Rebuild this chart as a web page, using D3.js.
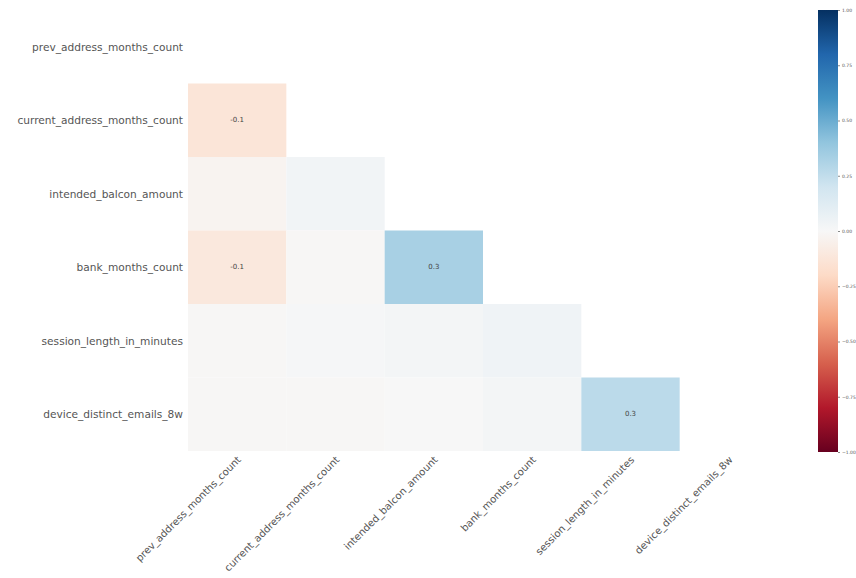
<!DOCTYPE html>
<html>
<head>
<meta charset="utf-8">
<script src="https://cdnjs.cloudflare.com/ajax/libs/d3/7.8.5/d3.min.js"></script>
<style>
  body { margin: 0; background: #fff; }
  svg text { font-family: "DejaVu Sans", sans-serif; }
</style>
</head>
<body>
<svg id="chart"></svg>
<script>
const columns = [
    "prev_address_months_count",
    "current_address_months_count",
    "intended_balcon_amount",
    "bank_months_count",
    "session_length_in_minutes",
    "device_distinct_emails_8w"
];

// nullity correlation, lower triangle only (row i, col j < i)
const corrRows = [
    [],
    [-0.13],
    [-0.03, 0.03],
    [-0.11, -0.01, 0.33],
    [-0.01, 0.01, 0.02, 0.04],
    [-0.01, -0.01, 0.00, 0.02, 0.27]
];

const colorbarTicks = [1, 0.75, 0.5, 0.25, 0, -0.25, -0.5, -0.75, -1];

// RdBu colour stops (same as matplotlib's linear segmented map)
const rdbu = ["#67001f", "#b2182b", "#d6604d", "#f4a582", "#fddbc7", "#f7f7f7",
              "#d1e5f0", "#92c5de", "#4393c3", "#2166ac", "#053061"];

const W = 856, H = 578;
const grid = { left: 188, top: 10, right: 778, bottom: 451 };

const svg = d3.select("#chart")
    .attr("width", W)
    .attr("height", H);

const x = d3.scaleBand()
    .domain(columns)
    .range([grid.left, grid.right]);

const y = d3.scaleBand()
    .domain(columns)
    .range([grid.top, grid.bottom]);

const color = d3.scaleLinear()
    .domain(d3.range(rdbu.length).map(i => -1 + 2 * i / (rdbu.length - 1)))
    .range(rdbu)
    .interpolate(d3.interpolateRgb);

const cells = [];
corrRows.forEach((row, i) => {
    row.forEach((v, j) => cells.push({ row: columns[i], col: columns[j], value: v }));
});

svg.append("g").selectAll("rect")
    .data(cells)
    .enter().append("rect")
    .attr("x", d => x(d.col))
    .attr("y", d => y(d.row))
    .attr("width", x.bandwidth())
    .attr("height", y.bandwidth())
    .attr("fill", d => color(d.value));

// missingno style annotations
const annot = v => {
    if (Math.abs(v) < 0.05) return "";
    return String(Math.round(v * 10) / 10);
};

svg.append("g").selectAll("text")
    .data(cells.filter(d => annot(d.value) !== ""))
    .enter().append("text")
    .attr("x", d => x(d.col) + x.bandwidth() / 2)
    .attr("y", d => y(d.row) + y.bandwidth() / 2)
    .attr("text-anchor", "middle")
    .attr("dominant-baseline", "central")
    .style("font-size", "7px")
    .attr("fill", "#444")
    .text(d => annot(d.value));

// y labels
svg.append("g").selectAll("text")
    .data(columns)
    .enter().append("text")
    .attr("x", grid.left - 5)
    .attr("y", d => y(d) + y.bandwidth() / 2)
    .attr("text-anchor", "end")
    .attr("dominant-baseline", "central")
    .style("font-size", "10.6px")
    .attr("fill", "#555")
    .text(d => d);

// x labels, rotated
svg.append("g").selectAll("text")
    .data(columns)
    .enter().append("text")
    .attr("transform", d => `translate(${x(d) + x.bandwidth() / 2 + 2},${grid.bottom + 7}) rotate(-45)`)
    .attr("text-anchor", "end")
    .attr("dominant-baseline", "central")
    .style("font-size", "10.1px")
    .attr("fill", "#555")
    .text(d => d);

// colorbar
const cb = { x: 818, w: 20, top: 10, bottom: 452 };
const cbScale = d3.scaleLinear().domain([-1, 1]).range([cb.bottom, cb.top]);

const defs = svg.append("defs");
const grad = defs.append("linearGradient")
    .attr("id", "cbgrad")
    .attr("x1", "0").attr("y1", "1")
    .attr("x2", "0").attr("y2", "0");
rdbu.forEach((c, i) => {
    grad.append("stop")
        .attr("offset", i / (rdbu.length - 1))
        .attr("stop-color", c);
});

svg.append("rect")
    .attr("x", cb.x)
    .attr("y", cb.top)
    .attr("width", cb.w)
    .attr("height", cb.bottom - cb.top)
    .attr("fill", "url(#cbgrad)");

const cbAxis = svg.append("g")
    .attr("transform", `translate(${cb.x + cb.w},0)`)
    .call(d3.axisRight(cbScale)
        .tickValues(colorbarTicks)
        .tickFormat(d3.format(".2f"))
        .tickSize(2)
        .tickPadding(2));
cbAxis.select(".domain").remove();
cbAxis.selectAll("line").attr("stroke", "#888");
cbAxis.selectAll("text")
    .style("font-size", "4.5px")
    .attr("fill", "#555");
</script>
</body>
</html>
